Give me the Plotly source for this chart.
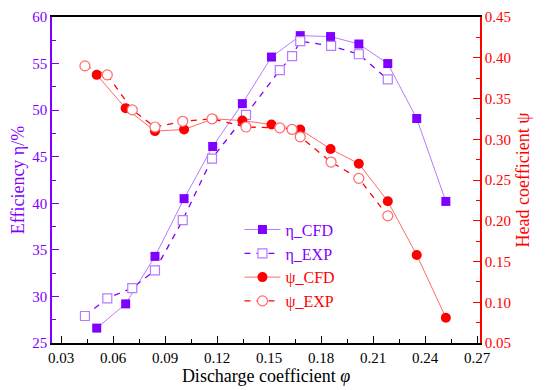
import plotly.graph_objects as go

# Discharge coefficient (x) for CFD and EXP series
phi_cfd = [0.0506, 0.0673, 0.0842, 0.1010, 0.1175, 0.1346, 0.1514, 0.1680, 0.1855, 0.2018, 0.2185, 0.2352, 0.2520]
phi_exp = [0.0438, 0.0567, 0.0711, 0.0842, 0.1002, 0.1171, 0.1367, 0.1562, 0.1633, 0.1680, 0.1858, 0.2018, 0.2185]

# Efficiency (%)
eta_cfd = [26.6, 29.2, 34.3, 40.5, 46.1, 50.7, 55.7, 58.0, 57.9, 57.1, 55.0, 49.1, 40.2]
eta_exp = [27.9, 29.8, 30.9, 32.8, 38.2, 44.8, 49.5, 54.3, 55.8, 57.4, 56.9, 56.0, 53.3]

# Head coefficient
psi_cfd = [0.379, 0.338, 0.310, 0.312, 0.325, 0.323, 0.318, 0.312, 0.288, 0.270, 0.224, 0.158, 0.081]
psi_exp = [0.390, 0.379, 0.336, 0.315, 0.322, 0.325, 0.315, 0.314, 0.312, 0.303, 0.272, 0.252, 0.206]

x_ticks = [0.03, 0.06, 0.09, 0.12, 0.15, 0.18, 0.21, 0.24, 0.27]

PURPLE = "#8000ff"
PURPLE_L = "#b47cff"
RED = "#ff0000"
RED_L = "#ff6a6a"
FONT = "'Liberation Serif', 'Times New Roman', serif"

fig = go.Figure()

fig.add_trace(go.Scatter(
    x=phi_cfd, y=eta_cfd, mode="lines+markers",
    name="<span style='color:%s'>η_CFD</span>" % PURPLE,
    line=dict(color=PURPLE_L, width=1),
    marker=dict(symbol="square", size=9, color=PURPLE, line=dict(color=PURPLE, width=0)),
))
fig.add_trace(go.Scatter(
    x=phi_exp, y=eta_exp, mode="lines+markers",
    name="<span style='color:%s'>η_EXP</span>" % PURPLE,
    line=dict(color=PURPLE, width=1.3, dash="6px,6px"),
    marker=dict(symbol="square", size=9, color="white", line=dict(color=PURPLE_L, width=1.2)),
))
fig.add_trace(go.Scatter(
    x=phi_cfd, y=psi_cfd, mode="lines+markers", yaxis="y2",
    name="<span style='color:%s'>ψ_CFD</span>" % RED,
    line=dict(color=RED_L, width=1),
    marker=dict(symbol="circle", size=10, color=RED, line=dict(color=RED, width=0)),
))
fig.add_trace(go.Scatter(
    x=phi_exp, y=psi_exp, mode="lines+markers", yaxis="y2",
    name="<span style='color:%s'>ψ_EXP</span>" % RED,
    line=dict(color=RED, width=1.3, dash="6px,6px"),
    marker=dict(symbol="circle", size=10, color="white", line=dict(color=RED_L, width=1.2)),
))

fig.update_layout(
    width=550, height=390,
    margin=dict(l=44, r=78, t=9, b=55, autoexpand=False),
    paper_bgcolor="white", plot_bgcolor="white",
    font=dict(family=FONT, size=14, color="black"),
    showlegend=True,
    legend=dict(x=0.438, y=0.40, xanchor="left", yanchor="top",
                bgcolor="rgba(0,0,0,0)", font=dict(family=FONT, size=16),
                tracegroupgap=0, itemwidth=36),
    xaxis=dict(
        range=[0.0248, 0.2717], tickvals=x_ticks,
        ticktext=["%.2f" % v for v in x_ticks],
        showgrid=False, zeroline=False, automargin=False, ticklabeloverflow="allow",
        showline=True, linecolor="black", linewidth=1.5, mirror=True,
        ticks="inside", ticklen=7, tickwidth=1.2, tickcolor="black",
        minor=dict(ticks="inside", ticklen=4, tickwidth=1, tickcolor="black", dtick=0.015, tick0=0.03),
        tickfont=dict(family=FONT, size=15, color="black"),
        title=dict(text="Discharge coefficient <i>φ</i>", font=dict(family=FONT, size=18, color="black"), standoff=5),
    ),
    yaxis=dict(
        range=[25, 60], dtick=5, tick0=25,
        showgrid=False, zeroline=False, automargin=False, ticklabeloverflow="allow",
        showline=True, linecolor=PURPLE, linewidth=1.5,
        ticks="inside", ticklen=7, tickwidth=1.2, tickcolor=PURPLE,
        minor=dict(ticks="inside", ticklen=4, tickwidth=1, tickcolor=PURPLE, dtick=2.5),
        tickfont=dict(family=FONT, size=15, color=PURPLE),
        title=dict(text="Efficiency η/%", font=dict(family=FONT, size=18, color=PURPLE), standoff=6),
    ),
    yaxis2=dict(
        overlaying="y", side="right",
        range=[0.05, 0.45], dtick=0.05, tick0=0.05, tickformat=".2f",
        showgrid=False, zeroline=False, automargin=False, ticklabeloverflow="allow",
        showline=True, linecolor=RED, linewidth=1.5,
        ticks="inside", ticklen=7, tickwidth=1.2, tickcolor=RED,
        minor=dict(ticks="inside", ticklen=4, tickwidth=1, tickcolor=RED, dtick=0.025),
        tickfont=dict(family=FONT, size=15, color=RED),
        title=dict(text="Head coefficient ψ", font=dict(family=FONT, size=18, color=RED), standoff=6),
    ),
)

fig.write_html("out.html")
